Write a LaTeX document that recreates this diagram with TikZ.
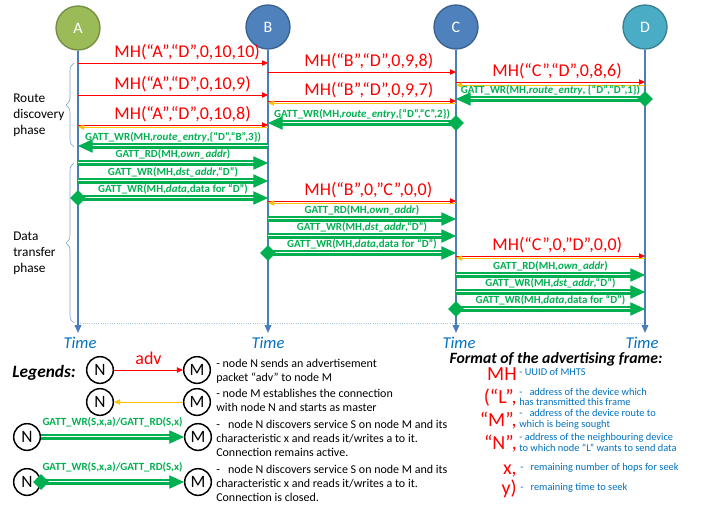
\documentclass[tikz,border=0pt]{standalone}
\usepackage{fontspec}
\setmainfont{Carlito}
\usetikzlibrary{arrows.meta,shapes.geometric,decorations.pathreplacing}
\definecolor{mhred}{HTML}{FF0000}
\definecolor{ackorange}{HTML}{FFC000}
\definecolor{gattgreen}{HTML}{00B050}
\definecolor{lifeblue}{HTML}{4A7EBB}
\definecolor{txtblue}{HTML}{0070C0}
\definecolor{nodeA}{HTML}{9BBB59}
\definecolor{nodeB}{HTML}{4F81BD}
\definecolor{nodeD}{HTML}{4BACC6}
\newcommand\fmtfont{\fontsize{7.8}{8}\selectfont\lineskiplimit=-10pt\relax}

\begin{document}
\begin{tikzpicture}[x=0.75pt, y=-0.75pt,
 peer/.style={circle, draw, line width=1pt, minimum size=33pt, inner sep=0pt, text=white, font=\fontsize{12}{14}\selectfont},
 life/.style={lifeblue, line width=1.1pt, -{Triangle[length=6pt,width=5pt]}},
 msg/.style={mhred, line width=0.6pt, -{Triangle[length=4.5pt,width=4pt]}},
 ack/.style={msg, ackorange},
 gatt/.style={gattgreen, line width=0.7pt, -{Triangle[length=11pt,width=10pt]},
   preaction={draw=gattgreen, -, line width=1.1pt, double=white, double distance=2.2pt, shorten >=6pt}},
 endcon/.style={diamond, fill=gattgreen, inner sep=0pt, minimum size=12pt},
 mlbl/.style={text=mhred, font=\fontsize{13.5}{15}\selectfont, inner sep=0pt, yshift=4.5pt},
 glbl/.style={text=gattgreen, font=\bfseries\fontsize{8.2}{9}\selectfont, inner sep=0pt, anchor=base, yshift=4.5pt},
 brc/.style={draw=lifeblue!70, line width=0.5pt, decorate, decoration={brace, amplitude=6pt}},
 phasetxt/.style={font=\fontsize{10}{12}\selectfont, align=left, anchor=west, inner sep=0pt},
 timelbl/.style={text=txtblue, font=\itshape\fontsize{12.4}{14}\selectfont, anchor=base, inner sep=0pt},
 lnode/.style={circle, draw, line width=1.1pt, minimum size=20pt, inner sep=0pt, font=\fontsize{13}{14}\selectfont},
 ltxt/.style={font=\fontsize{9}{10.5}\selectfont, align=left, anchor=west, inner sep=0pt},
 fred/.style={text=mhred, font=\fontsize{15}{16}\selectfont, anchor=base east, inner sep=0pt},
 fblue/.style={text=txtblue, font=\fmtfont, align=left, anchor=west, inner sep=0pt},
]
\useasboundingbox (0,0) rectangle (710,508);

% lifelines
\node[peer, fill=nodeA, draw=nodeA!75!black] (A) at (78,28) {A};
\node[peer, fill=nodeB, draw=nodeB!75!black] (B) at (268,27) {B};
\node[peer, fill=nodeB, draw=nodeB!75!black] (C) at (456,27) {C};
\node[peer, fill=nodeD, draw=nodeD!75!black] (D) at (645,27) {D};
\coordinate (Aend) at (78,333);
\coordinate (Bend) at (268,333);
\coordinate (Cend) at (456,333);
\coordinate (Dend) at (645,333);

\foreach \y in {63,95,125,127,146,163,181,198,323} \coordinate (A\y) at (78,\y);
\foreach \y in {63,95,125,127,146,163,181,198,72,101,103,123,201,203,219,236,253} \coordinate (B\y) at (268,\y);
\foreach \y in {72,101,103,123,201,203,219,236,253,82,85,99,256,258,275,292,309} \coordinate (C\y) at (456,\y);
\foreach \y in {82,85,99,256,258,275,292,309,323} \coordinate (D\y) at (645,\y);

\draw[lifeblue!45, densely dotted, line width=0.7pt] (A323) -- (D323);
\draw[life] (A) -- (Aend);
\draw[life] (B) -- (Bend);
\draw[life] (C) -- (Cend);
\draw[life] (D) -- (Dend);
\node[timelbl] (tA) at (80,348) {Time};
\node[timelbl] (tB) at (268,348) {Time};
\node[timelbl] (tC) at (459,348) {Time};
\node[timelbl] (tD) at (642,348) {Time};

% phases
\draw[brc] (74,147) -- (74,63);
\draw[brc] (74,323) -- (74,163);
\node[phasetxt] (route) at (13,115) {Route\\discovery\\phase};
\node[phasetxt] (transfer) at (13,253) {Data\\transfer\\phase};

% route discovery
\draw[msg] (A63) -- (B63) node[mlbl, at start, anchor=base west, xshift=27pt] {MH(“A”,“D”,0,10,10)};
\draw[msg] (A95) -- (B95) node[mlbl, at start, anchor=base west, xshift=27pt] {MH(“A”,“D”,0,10,9)};
\draw[msg] (A125) -- (B125) node[mlbl, at start, anchor=base west, xshift=27pt] {MH(“A”,“D”,0,10,8)};
\draw[ack] (B127) -- (A127);
\draw[msg] (B72) -- (C72) node[mlbl, at start, anchor=base west, xshift=27pt] {MH(“B”,“D”,0,9,8)};
\draw[msg] (B101) -- (C101) node[mlbl, at start, anchor=base west, xshift=27pt] {MH(“B”,“D”,0,9,7)};
\draw[ack] (C103) -- (B103);
\draw[msg] (C82) -- (D82) node[mlbl, at start, anchor=base west, xshift=27pt] {MH(“C”,“D”,0,8,6)};
\draw[ack] (D85) -- (C85);
\draw[gatt] (D99) -- (C99) node[glbl, midway] {GATT\_WR(MH,\textit{route\_entry}, \{“D”,“D”,1\})};
\node[endcon] (closeD) at (D99) {};
\draw[gatt] (C123) -- (B123) node[glbl, midway] {GATT\_WR(MH,\textit{route\_entry},\{“D”,“C”,2\})};
\node[endcon] (closeC) at (C123) {};
\draw[gatt] (B146) -- (A146) node[glbl, midway] {GATT\_WR(MH,\textit{route\_entry},\{“D”,“B”,3\})};

% data transfer
\draw[gatt] (A163) -- (B163) node[glbl, midway] {GATT\_RD(MH,\textit{own\_addr})};
\draw[gatt] (A181) -- (B181) node[glbl, midway] {GATT\_WR(MH,\textit{dst\_addr},“D”)};
\draw[gatt] (A198) -- (B198) node[glbl, midway] {GATT\_WR(MH,\textit{data},data for “D”)};
\node[endcon] (closeA) at (A198) {};
\draw[msg] (B201) -- (C201) node[mlbl, at start, anchor=base west, xshift=27pt] {MH(“B”,0,”C”,0,0)};
\draw[ack] (C203) -- (B203);
\draw[gatt] (B219) -- (C219) node[glbl, midway] {GATT\_RD(MH,\textit{own\_addr})};
\draw[gatt] (B236) -- (C236) node[glbl, midway] {GATT\_WR(MH,\textit{dst\_addr},“D”)};
\draw[gatt] (B253) -- (C253) node[glbl, midway] {GATT\_WR(MH,\textit{data},data for “D”)};
\node[endcon] (closeB) at (B253) {};
\draw[msg] (C256) -- (D256) node[mlbl, at start, anchor=base west, xshift=27pt] {MH(“C”,0,”D”,0,0)};
\draw[ack] (D258) -- (C258);
\draw[gatt] (C275) -- (D275) node[glbl, midway] {GATT\_RD(MH,\textit{own\_addr})};
\draw[gatt] (C292) -- (D292) node[glbl, midway] {GATT\_WR(MH,\textit{dst\_addr},“D”)};
\draw[gatt] (C309) -- (D309) node[glbl, midway] {GATT\_WR(MH,\textit{data},data for “D”)};
\node[endcon] (closeC2) at (C309) {};

% legends
\node[font=\bfseries\itshape\fontsize{13}{15}\selectfont, anchor=base west, inner sep=0pt] (legends) at (12,377) {Legends:};
\node[lnode] (N1) at (100,370) {N};
\node[lnode] (M1) at (197,370) {M};
\draw[msg] (N1) -- (M1) node[mlbl, midway, anchor=base] {adv};
\node[ltxt] (txt1) at (216,371) {- node N sends an advertisement\\packet “adv” to node M};
\node[lnode] (N2) at (100,402) {N};
\node[lnode] (M2) at (197,402) {M};
\draw[ack] (M2) -- (N2);
\node[ltxt] (txt2) at (216,400) {- node M establishes the connection\\with node N and starts as master};
\node[lnode] (N3) at (27,437) {N};
\node[lnode] (M3) at (198,437) {M};
\draw[gatt] (N3) -- (M3) node[glbl, midway, yshift=4pt] {GATT\_WR(S,x,a)/GATT\_RD(S,x)};
\node[ltxt] (txt3) at (216,438) {-\ \ \ node N discovers service S on node M and its\\characteristic x and reads it/writes a to it.\\Connection remains active.};
\node[lnode] (N4) at (27,482) {N};
\node[lnode] (M4) at (198,482) {M};
\draw[gatt] (N4) -- (M4) node[glbl, midway, yshift=4pt] {GATT\_WR(S,x,a)/GATT\_RD(S,x)};
\node[endcon] (closeN) at (N4.east) {};
\node[ltxt] (txt4) at (216,483.5) {-\ \ \ node N discovers service S on node M and its\\characteristic x and reads it/writes a to it.\\Connection is closed.};

% frame format
\node[font=\bfseries\itshape\fontsize{11.8}{13}\selectfont, anchor=base, inner sep=0pt] (fmt) at (556,363) {Format of the advertising frame:};
\node[fred] (fMH) at (517,380) {MH};
\node[fblue, anchor=base west] (dMH) at (519,375) {- UUID of MHTS};
\node[fred] (fL) at (517,403) {(“L”,};
\node[fblue] (dL) at (519,397) {-\ \ \ address of the device which\\has transmitted this frame};
\node[fred] (fM) at (517,426) {“M”,};
\node[fblue] (dM) at (519,419) {-\ \ \ address of the device route to\\which is being sought};
\node[fred] (fN) at (517,449) {“N”,};
\node[fblue] (dN) at (519,442.5) {- address of the neighbouring device\\to which node “L” wants to send data};
\node[fred] (fx) at (517,474) {x,};
\node[fblue, anchor=base west] (dx) at (520,470) {-\ \ \ remaining number of hops for seek};
\node[fred] (fy) at (517,494) {y)};
\node[fblue, anchor=base west] (dy) at (520,490) {-\ \ \ remaining time to seek};
\end{tikzpicture}
\end{document}
